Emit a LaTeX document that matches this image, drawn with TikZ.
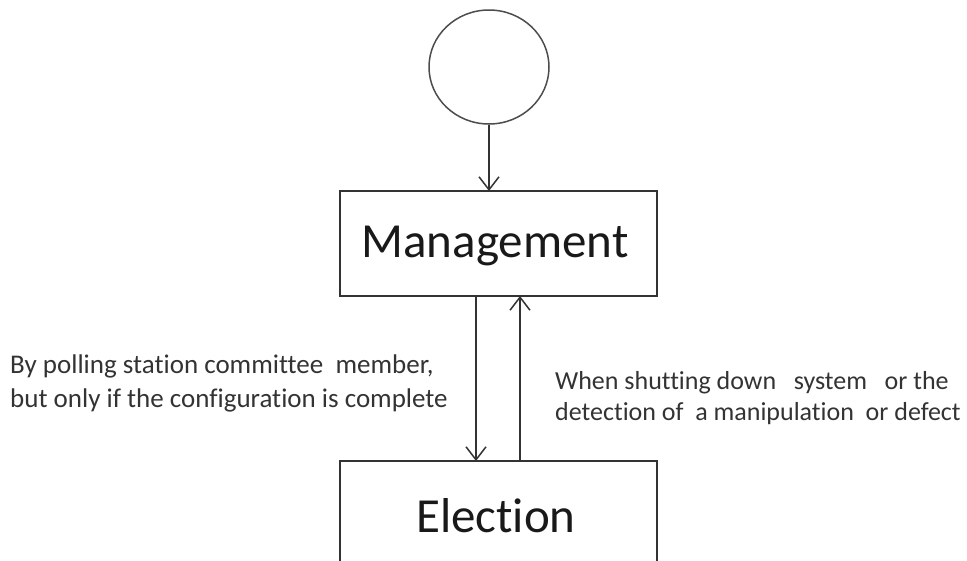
\documentclass[tikz,border=0pt]{standalone}
\usepackage{fontspec}
\setmainfont{Carlito}[Ligatures=CommonOff]
\usetikzlibrary{arrows.meta,shapes.geometric}
\begin{document}
\begin{tikzpicture}[x=1pt,y=-1pt,
  box/.style={draw=black!80,line width=1.5pt,minimum width=317pt,minimum height=105pt,inner sep=0pt},
  big/.style={font=\fontsize{49}{56}\selectfont,inner sep=0pt,text=black!90},
  conn/.style={draw=black!80,line width=1.5pt,-{Straight Barb[length=13pt,width=20pt,line width=1.5pt]}},
  lbl/.style={text=black!80,align=left,inner sep=0pt}]
\useasboundingbox (0,0) rectangle (967,560);
\clip (0,0) rectangle (967,560);
\node[draw=black!70,line width=1.5pt,ellipse,minimum width=120pt,minimum height=114pt,inner sep=0pt] (start) at (489,67) {};
\node[box] (mgmt) at (498.5,243.5) {};
\node[big] (mgmttxt) at (495,246) {Management};
\node[box,minimum height=140pt] (elec) at (498.5,531) {};
\node[big] (electxt) at (496,516) {Election};
\coordinate (a1) at (489,191);
\draw[conn] (start.south) -- (a1);
\coordinate (d1) at (476,296);
\coordinate (d2) at (476,461);
\coordinate (u1) at (520,461);
\coordinate (u2) at (520,296);
\draw[conn] (d1) -- (d2);
\draw[conn] (u1) -- (u2);
\node[lbl,anchor=west,font=\fontsize{27}{34}\selectfont] (left) at (10,383) {By polling station committee\ \ member,\\but only if the configuration is complete};
\node[lbl,anchor=west,font=\fontsize{26}{31}\selectfont] (right) at (555,398.5) {When shutting down\ \ \ system\ \ \ or the\\detection of\ \ a manipulation\ \ or defect};
\end{tikzpicture}
\end{document}
